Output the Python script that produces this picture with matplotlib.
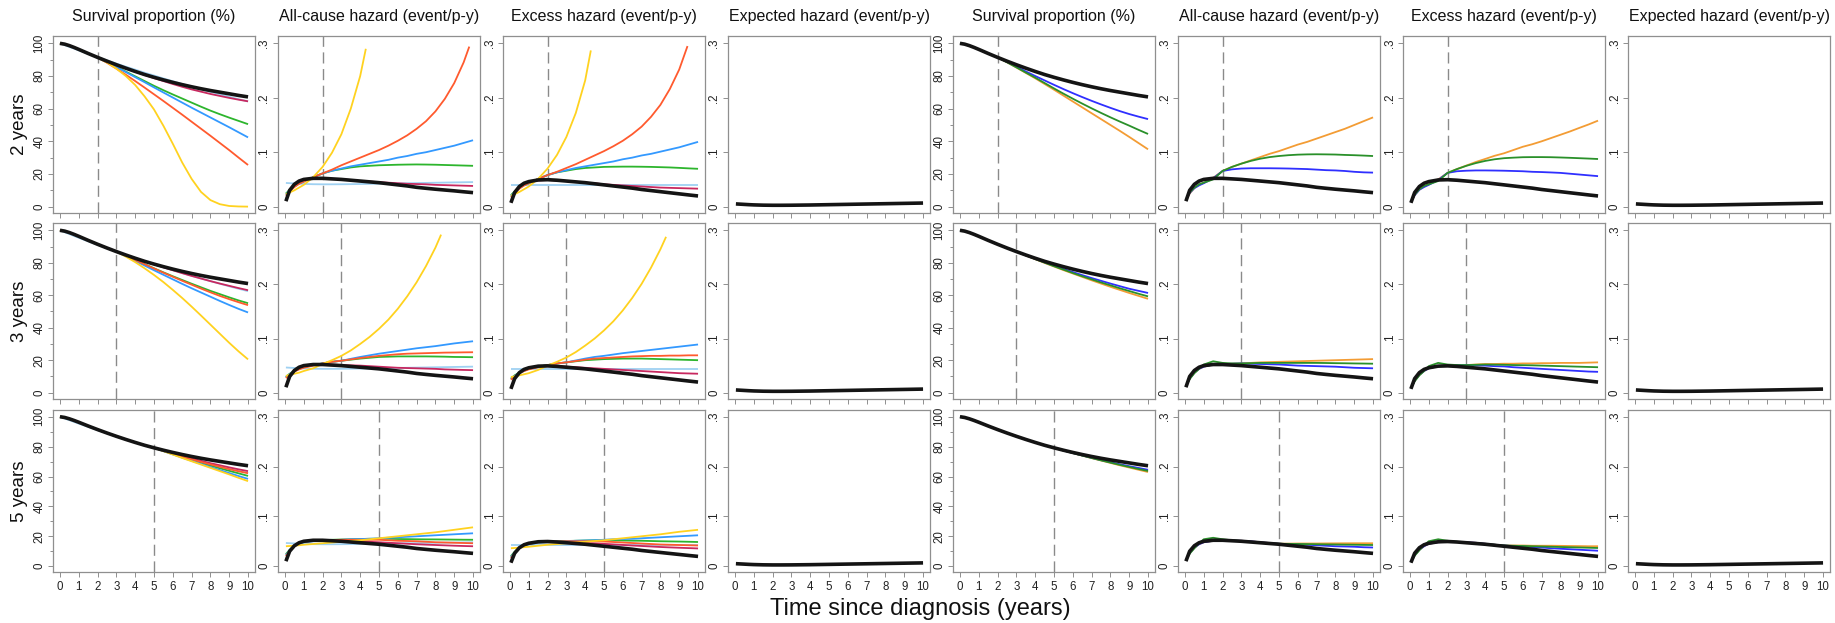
import numpy as np
import matplotlib
matplotlib.use("Agg")
import matplotlib.pyplot as plt

plt.rcParams['font.family'] = ['Liberation Sans', 'DejaVu Sans']

# ---------------- data ----------------
TS = [0, 0.25, 0.5, 0.75, 1, 1.5, 2, 2.5, 3, 3.5, 4, 4.5, 5, 5.5, 6, 6.5, 7, 7.5, 8, 8.5, 9, 9.5, 10]
TH = [0.05, 0.25, 0.5, 0.75, 1, 1.5, 2, 2.5, 3, 3.5, 4, 4.5, 5, 5.5, 6, 6.5, 7, 7.5, 8, 8.5, 9, 9.5, 10]

COL_TITLES = ["Survival proportion (%)", "All-cause hazard (event/p-y)",
              "Excess hazard (event/p-y)", "Expected hazard (event/p-y)"]
ROW_LABELS = ["2 years", "3 years", "5 years"]
CUTS = [2, 3, 5]
X_LABEL = "Time since diagnosis (years)"

# reference (black) curves
S_REF = [100, 99.5, 98.6, 97.5, 96.3, 93.8, 91.4, 89.1, 86.9, 84.8, 82.8, 80.9, 79.2, 77.6, 76.1, 74.7, 73.4, 72.2, 71.1, 70.1, 69.1, 68.1, 67.2]
H_REF = [0.010, 0.030, 0.041, 0.047, 0.050, 0.052, 0.052, 0.051, 0.050, 0.0485, 0.047, 0.0455, 0.044, 0.042, 0.040, 0.038, 0.0355, 0.0337, 0.032, 0.0305, 0.029, 0.0273, 0.0257]
E_REF = [0.007, 0.026, 0.037, 0.043, 0.046, 0.049, 0.0495, 0.0485, 0.047, 0.0455, 0.044, 0.042, 0.040, 0.038, 0.036, 0.034, 0.0315, 0.0295, 0.0275, 0.0255, 0.0235, 0.0215, 0.0196]
H_EXP = [0.0050, 0.0046, 0.0041, 0.0036, 0.0032, 0.0027, 0.0025, 0.0025, 0.0026, 0.0028, 0.0030, 0.0033, 0.0036, 0.0039, 0.0042, 0.0045, 0.0048, 0.0051, 0.0054, 0.0057, 0.0060, 0.0063, 0.0066]

# ----- left block, 2-year row -----
S1_YEL = [100, 99.5, 98.6, 97.5, 96.3, 93.8, 91.4, 88.3, 84.5, 80.0, 74.5, 67.5, 59.5, 49.5, 38.5, 27.0, 17.0, 9.0, 4.0, 1.5, 0.4, 0.1, 0.0]
S1_ORA = [100, 99.5, 98.6, 97.5, 96.3, 93.8, 91.4, 88.1, 84.5, 80.8, 76.9, 72.9, 68.8, 64.7, 60.5, 56.3, 52.0, 47.7, 43.4, 39.0, 34.6, 30.0, 25.5]
S1_BLU = [100, 99.5, 98.6, 97.5, 96.3, 93.8, 91.4, 88.5, 85.5, 82.4, 79.3, 76.2, 73.0, 69.9, 66.8, 63.7, 60.6, 57.6, 54.6, 51.6, 48.6, 45.5, 42.4]
S1_GRN = [100, 99.5, 98.6, 97.5, 96.3, 93.8, 91.4, 88.5, 85.6, 82.7, 79.8, 76.9, 74.0, 71.3, 68.7, 66.2, 63.7, 61.2, 58.8, 56.6, 54.5, 52.5, 50.5]
S1_CRI = [100, 99.5, 98.6, 97.5, 96.3, 93.8, 91.4, 89.1, 86.9, 84.7, 82.6, 80.6, 78.7, 76.9, 75.1, 73.4, 71.8, 70.4, 69.0, 67.8, 66.6, 65.5, 64.5]
S1_LBL = [100, 98.9, 97.8, 96.8, 95.7, 93.6, 91.6, 89.6, 87.6, 85.7, 83.9, 82.0, 80.3, 78.5, 76.8, 75.1, 73.5, 71.9, 70.3, 68.8, 67.3, 65.8, 64.4]

T1_YEL = [0.05, 0.25, 0.5, 0.75, 1, 1.5, 2, 2.5, 3, 3.5, 4, 4.3]
H1_YEL = [0.023, 0.026, 0.030, 0.035, 0.040, 0.054, 0.073, 0.099, 0.133, 0.180, 0.240, 0.290]
T1_ORA_H = [0.05, 0.25, 0.5, 0.75, 1, 1.5, 2, 2.5, 3, 3.5, 4, 4.5, 5, 5.5, 6, 6.5, 7, 7.5, 8, 8.5, 9, 9.5, 9.8]
H1_ORA = [0.020, 0.028, 0.036, 0.042, 0.046, 0.054, 0.061, 0.068, 0.076, 0.083, 0.090, 0.097, 0.104, 0.112, 0.121, 0.131, 0.143, 0.157, 0.175, 0.198, 0.227, 0.265, 0.294]
H1_BLU = [0.022, 0.030, 0.037, 0.042, 0.046, 0.054, 0.061, 0.066, 0.070, 0.074, 0.077, 0.080, 0.083, 0.086, 0.090, 0.093, 0.097, 0.100, 0.104, 0.108, 0.112, 0.117, 0.122]
H1_GRN = [0.024, 0.031, 0.038, 0.043, 0.046, 0.054, 0.061, 0.066, 0.069, 0.072, 0.074, 0.075, 0.076, 0.0765, 0.077, 0.0773, 0.0775, 0.0773, 0.077, 0.0765, 0.076, 0.0755, 0.075]
H1_CRI = [0.012, 0.030, 0.040, 0.046, 0.049, 0.052, 0.052, 0.051, 0.050, 0.049, 0.047, 0.046, 0.045, 0.044, 0.043, 0.042, 0.0415, 0.041, 0.040, 0.0395, 0.039, 0.0385, 0.038]
H1_LBL = [0.0435, 0.0431, 0.0426, 0.0421, 0.0417, 0.0412, 0.041, 0.041, 0.0411, 0.0413, 0.0415, 0.0418, 0.0421, 0.0424, 0.0427, 0.043, 0.0433, 0.0436, 0.0439, 0.0442, 0.0445, 0.0448, 0.0451]

E1_YEL = [0.020, 0.023, 0.027, 0.032, 0.037, 0.051, 0.070, 0.095, 0.128, 0.172, 0.232, 0.287]
T1_ORA_E = [0.05, 0.25, 0.5, 0.75, 1, 1.5, 2, 2.5, 3, 3.5, 4, 4.5, 5, 5.5, 6, 6.5, 7, 7.5, 8, 8.5, 9, 9.44]
E1_ORA = [0.017, 0.025, 0.033, 0.039, 0.043, 0.051, 0.058, 0.064, 0.071, 0.078, 0.086, 0.094, 0.102, 0.111, 0.121, 0.133, 0.147, 0.165, 0.187, 0.216, 0.252, 0.295]
E1_BLU = [0.019, 0.027, 0.034, 0.039, 0.043, 0.051, 0.058, 0.063, 0.067, 0.071, 0.074, 0.077, 0.080, 0.083, 0.087, 0.090, 0.094, 0.097, 0.101, 0.105, 0.109, 0.114, 0.119]
E1_GRN = [0.021, 0.028, 0.035, 0.040, 0.043, 0.051, 0.058, 0.063, 0.066, 0.069, 0.071, 0.072, 0.073, 0.0733, 0.0735, 0.0735, 0.0733, 0.073, 0.0725, 0.072, 0.0712, 0.0703, 0.0695]
E1_CRI = [0.008, 0.026, 0.036, 0.042, 0.045, 0.048, 0.049, 0.048, 0.047, 0.046, 0.044, 0.043, 0.041, 0.040, 0.039, 0.038, 0.037, 0.036, 0.035, 0.0345, 0.034, 0.0335, 0.033]
E1_LBL = [0.040, 0.040, 0.040, 0.040, 0.040, 0.040, 0.040, 0.040, 0.040, 0.040, 0.040, 0.040, 0.040, 0.040, 0.040, 0.040, 0.040, 0.040, 0.040, 0.040, 0.040, 0.040, 0.040]

# ----- left block, 3-year row -----
S2_YEL = [100, 99.5, 98.6, 97.5, 96.3, 93.8, 91.4, 89.1, 86.9, 83.8, 80.4, 76.6, 72.5, 68.1, 63.3, 58.3, 53.0, 47.5, 41.9, 36.3, 30.7, 25.4, 20.5]
S2_ORA = [100, 99.5, 98.6, 97.5, 96.3, 93.8, 91.4, 89.1, 86.9, 84.3, 81.7, 79.1, 76.5, 73.9, 71.4, 68.9, 66.5, 64.1, 61.8, 59.6, 57.6, 55.7, 53.9]
S2_GRN = [100, 99.5, 98.6, 97.5, 96.3, 93.8, 91.4, 89.1, 86.9, 84.3, 81.8, 79.2, 76.6, 74.1, 71.7, 69.4, 67.1, 64.9, 62.7, 60.7, 58.7, 56.8, 55.1]
S2_BLU = [100, 99.5, 98.6, 97.5, 96.3, 93.8, 91.4, 89.1, 86.9, 84.1, 81.2, 78.3, 75.4, 72.6, 69.8, 67.0, 64.3, 61.7, 59.1, 56.5, 54.0, 51.6, 49.4]
S2_CRI = [100, 99.5, 98.6, 97.5, 96.3, 93.8, 91.4, 89.1, 86.9, 84.8, 82.8, 80.9, 79.0, 77.2, 75.4, 73.6, 71.9, 70.3, 68.7, 67.2, 65.8, 64.4, 63.1]
S2_LBL = [100, 98.8, 97.7, 96.5, 95.4, 93.2, 91.0, 88.9, 86.8, 84.8, 82.9, 80.9, 79.1, 77.2, 75.4, 73.7, 72.0, 70.3, 68.7, 67.1, 65.5, 64.0, 62.5]

T2_YEL = [0.05, 0.25, 0.5, 0.75, 1, 1.5, 2, 2.5, 3, 3.5, 4, 4.5, 5, 5.5, 6, 6.5, 7, 7.5, 8, 8.3]
H2_YEL = [0.031, 0.033, 0.035, 0.037, 0.040, 0.045, 0.053, 0.060, 0.068, 0.078, 0.090, 0.103, 0.118, 0.135, 0.155, 0.178, 0.204, 0.234, 0.268, 0.292]
H2_BLU = [0.028, 0.034, 0.040, 0.044, 0.047, 0.051, 0.054, 0.057, 0.059, 0.0625, 0.066, 0.069, 0.072, 0.0745, 0.077, 0.0795, 0.082, 0.084, 0.086, 0.0885, 0.091, 0.093, 0.095]
H2_ORA = [0.027, 0.033, 0.039, 0.043, 0.046, 0.050, 0.054, 0.057, 0.059, 0.0615, 0.064, 0.066, 0.068, 0.0695, 0.071, 0.072, 0.0725, 0.073, 0.0735, 0.074, 0.0742, 0.0745, 0.0747]
H2_GRN = [0.029, 0.035, 0.040, 0.044, 0.047, 0.051, 0.054, 0.057, 0.059, 0.061, 0.063, 0.0645, 0.066, 0.0665, 0.067, 0.067, 0.067, 0.067, 0.0668, 0.0665, 0.066, 0.0658, 0.0655]
H2_CRI = [0.012, 0.030, 0.040, 0.046, 0.049, 0.052, 0.052, 0.052, 0.051, 0.0505, 0.050, 0.049, 0.048, 0.047, 0.046, 0.0455, 0.045, 0.0445, 0.044, 0.043, 0.0425, 0.042, 0.0416]
H2_LBL = [0.0465, 0.0461, 0.0456, 0.0451, 0.0447, 0.0442, 0.044, 0.044, 0.0441, 0.0443, 0.0445, 0.0448, 0.0451, 0.0454, 0.0457, 0.046, 0.0463, 0.0466, 0.0469, 0.0472, 0.0475, 0.0478, 0.0481]

E2_YEL = [0.029, 0.030, 0.032, 0.034, 0.036, 0.042, 0.050, 0.057, 0.065, 0.075, 0.087, 0.100, 0.115, 0.132, 0.152, 0.175, 0.201, 0.231, 0.265, 0.288]
E2_BLU = [0.025, 0.031, 0.036, 0.040, 0.044, 0.048, 0.051, 0.054, 0.056, 0.0595, 0.063, 0.066, 0.068, 0.0705, 0.073, 0.075, 0.077, 0.079, 0.081, 0.083, 0.085, 0.087, 0.089]
E2_ORA = [0.024, 0.030, 0.036, 0.040, 0.043, 0.047, 0.051, 0.054, 0.056, 0.0585, 0.061, 0.063, 0.064, 0.065, 0.066, 0.067, 0.0675, 0.068, 0.068, 0.0685, 0.0685, 0.069, 0.069]
E2_GRN = [0.026, 0.032, 0.037, 0.041, 0.044, 0.048, 0.051, 0.054, 0.056, 0.058, 0.060, 0.061, 0.062, 0.0625, 0.063, 0.063, 0.063, 0.0625, 0.062, 0.0615, 0.061, 0.0605, 0.060]
E2_CRI = [0.008, 0.026, 0.036, 0.042, 0.045, 0.048, 0.049, 0.049, 0.048, 0.047, 0.046, 0.045, 0.044, 0.043, 0.042, 0.041, 0.040, 0.039, 0.038, 0.037, 0.036, 0.0355, 0.035]
E2_LBL = [0.043, 0.043, 0.043, 0.043, 0.043, 0.043, 0.043, 0.043, 0.043, 0.043, 0.043, 0.043, 0.043, 0.043, 0.043, 0.043, 0.043, 0.043, 0.043, 0.043, 0.043, 0.043, 0.043]

# ----- left block, 5-year row -----
S3_CRI = [100, 99.5, 98.6, 97.5, 96.3, 93.8, 91.4, 89.1, 86.9, 84.8, 82.8, 80.9, 79.2, 77.3, 75.5, 73.7, 72.1, 70.5, 68.9, 67.5, 66.1, 64.8, 63.6]
S3_ORA = [100, 99.5, 98.6, 97.5, 96.3, 93.8, 91.4, 89.1, 86.9, 84.8, 82.8, 80.9, 79.2, 77.2, 75.2, 73.3, 71.5, 69.8, 68.1, 66.5, 64.9, 63.5, 62.2]
S3_GRN = [100, 99.5, 98.6, 97.5, 96.3, 93.8, 91.4, 89.1, 86.9, 84.8, 82.8, 80.9, 79.2, 77.1, 75.0, 73.0, 71.0, 69.1, 67.3, 65.5, 63.8, 62.1, 60.4]
S3_BLU = [100, 99.5, 98.6, 97.5, 96.3, 93.8, 91.4, 89.1, 86.9, 84.8, 82.8, 80.9, 79.2, 77.0, 74.8, 72.6, 70.5, 68.4, 66.3, 64.3, 62.3, 60.3, 58.4]
S3_YEL = [100, 99.5, 98.6, 97.5, 96.3, 93.8, 91.4, 89.1, 86.9, 84.8, 82.8, 80.9, 79.2, 77.0, 74.7, 72.4, 70.2, 68.0, 65.8, 63.6, 61.4, 59.1, 56.9]
S3_LBL = [100, 98.8, 97.7, 96.5, 95.4, 93.2, 91.0, 88.9, 86.8, 84.8, 82.8, 80.9, 79.0, 77.2, 75.3, 73.6, 71.9, 70.2, 68.5, 66.9, 65.4, 63.9, 62.4]

H3_YEL = [0.040, 0.0405, 0.041, 0.042, 0.043, 0.0445, 0.046, 0.0475, 0.049, 0.0505, 0.052, 0.054, 0.056, 0.058, 0.060, 0.062, 0.064, 0.066, 0.068, 0.0705, 0.073, 0.0755, 0.078]
H3_BLU = [0.022, 0.032, 0.040, 0.045, 0.048, 0.050, 0.051, 0.052, 0.053, 0.054, 0.0545, 0.055, 0.056, 0.057, 0.058, 0.059, 0.060, 0.061, 0.062, 0.063, 0.064, 0.065, 0.066]
H3_GRN = [0.024, 0.033, 0.041, 0.046, 0.049, 0.051, 0.052, 0.053, 0.0535, 0.054, 0.0545, 0.055, 0.055, 0.055, 0.0545, 0.0543, 0.054, 0.0538, 0.0537, 0.0535, 0.0533, 0.0531, 0.053]
H3_ORA = [0.020, 0.031, 0.040, 0.046, 0.049, 0.051, 0.052, 0.0525, 0.053, 0.053, 0.053, 0.053, 0.053, 0.052, 0.051, 0.0505, 0.050, 0.049, 0.048, 0.0475, 0.047, 0.0465, 0.046]
H3_CRI = [0.012, 0.030, 0.040, 0.046, 0.049, 0.052, 0.052, 0.0518, 0.0512, 0.0505, 0.0498, 0.049, 0.048, 0.047, 0.046, 0.045, 0.044, 0.0432, 0.0425, 0.0418, 0.0411, 0.0405, 0.040]
H3_LBL = [0.0465, 0.0461, 0.0456, 0.0451, 0.0447, 0.0442, 0.044, 0.044, 0.0441, 0.0443, 0.0445, 0.0448, 0.0451, 0.0454, 0.0457, 0.046, 0.0463, 0.0466, 0.0469, 0.0472, 0.0475, 0.0478, 0.0481]

E3_YEL = [0.036, 0.0365, 0.037, 0.0382, 0.039, 0.041, 0.043, 0.0445, 0.046, 0.0475, 0.049, 0.0505, 0.052, 0.054, 0.056, 0.058, 0.060, 0.062, 0.064, 0.0665, 0.069, 0.071, 0.073]
E3_BLU = [0.018, 0.028, 0.036, 0.041, 0.044, 0.047, 0.048, 0.049, 0.050, 0.051, 0.0515, 0.052, 0.053, 0.054, 0.0545, 0.055, 0.056, 0.057, 0.058, 0.059, 0.060, 0.061, 0.062]
E3_GRN = [0.020, 0.029, 0.037, 0.042, 0.045, 0.048, 0.049, 0.050, 0.0505, 0.051, 0.0515, 0.052, 0.052, 0.0518, 0.0515, 0.0512, 0.051, 0.0505, 0.050, 0.0497, 0.0494, 0.049, 0.0485]
E3_ORA = [0.016, 0.027, 0.036, 0.042, 0.045, 0.048, 0.049, 0.0495, 0.050, 0.050, 0.050, 0.050, 0.0495, 0.0485, 0.0475, 0.0465, 0.0455, 0.0445, 0.0435, 0.043, 0.0425, 0.042, 0.0415]
E3_CRI = [0.008, 0.026, 0.036, 0.042, 0.045, 0.048, 0.049, 0.0488, 0.0482, 0.0475, 0.0467, 0.0458, 0.0448, 0.0437, 0.0426, 0.0415, 0.0405, 0.0395, 0.0385, 0.0377, 0.037, 0.0363, 0.0356]
E3_LBL = [0.0425, 0.0425, 0.0425, 0.0425, 0.0425, 0.0425, 0.0425, 0.0425, 0.0425, 0.0425, 0.0425, 0.0425, 0.0425, 0.0425, 0.0425, 0.0425, 0.0425, 0.0425, 0.0425, 0.0425, 0.0425, 0.0425, 0.0425]

# ----- right block -----
R1S_BLU = [100, 99.5, 98.6, 97.5, 96.3, 93.8, 91.4, 88.6, 85.7, 82.8, 80.0, 77.3, 74.6, 72.0, 69.5, 67.1, 64.8, 62.6, 60.5, 58.5, 56.7, 55.1, 53.6]
R1S_GRN = [100, 99.5, 98.6, 97.5, 96.3, 93.8, 91.4, 88.4, 85.3, 82.1, 79.0, 75.7, 72.4, 69.2, 66.1, 63.1, 60.2, 57.4, 54.7, 52.1, 49.6, 47.0, 44.5]
R1S_ORA = [100, 99.5, 98.6, 97.5, 96.3, 93.8, 91.4, 88.4, 85.2, 81.9, 78.6, 75.1, 71.6, 68.0, 64.4, 60.8, 57.2, 53.6, 50.0, 46.4, 42.7, 38.9, 35.1]
R1H_ORA = [0.011, 0.024, 0.034, 0.040, 0.044, 0.053, 0.0655, 0.073, 0.079, 0.085, 0.091, 0.097, 0.102, 0.108, 0.114, 0.119, 0.125, 0.131, 0.137, 0.143, 0.150, 0.157, 0.164]
R1H_GRN = [0.013, 0.026, 0.035, 0.041, 0.044, 0.050, 0.0655, 0.073, 0.079, 0.084, 0.088, 0.091, 0.093, 0.0945, 0.0955, 0.096, 0.0962, 0.096, 0.0957, 0.095, 0.0945, 0.0938, 0.093]
R1H_BLU = [0.012, 0.025, 0.034, 0.039, 0.043, 0.052, 0.0655, 0.0685, 0.070, 0.0705, 0.0705, 0.0705, 0.0703, 0.070, 0.0695, 0.069, 0.068, 0.067, 0.0665, 0.0655, 0.064, 0.063, 0.0625]
R1E_ORA = [0.008, 0.021, 0.031, 0.037, 0.041, 0.050, 0.062, 0.069, 0.0755, 0.082, 0.0876, 0.0934, 0.098, 0.104, 0.110, 0.1146, 0.120, 0.126, 0.132, 0.138, 0.1446, 0.151, 0.158]
R1E_GRN = [0.009, 0.022, 0.032, 0.038, 0.041, 0.047, 0.062, 0.069, 0.075, 0.080, 0.084, 0.087, 0.089, 0.090, 0.0908, 0.091, 0.091, 0.0908, 0.0903, 0.0897, 0.089, 0.0883, 0.0875]
R1E_BLU = [0.008, 0.021, 0.031, 0.036, 0.040, 0.049, 0.062, 0.065, 0.066, 0.0665, 0.0665, 0.0663, 0.066, 0.0655, 0.065, 0.064, 0.0635, 0.0628, 0.062, 0.0605, 0.059, 0.0575, 0.056]

R2S_BLU = [100, 99.5, 98.6, 97.5, 96.3, 93.8, 91.4, 89.1, 86.9, 84.6, 82.4, 80.3, 78.2, 76.2, 74.3, 72.4, 70.6, 68.9, 67.2, 65.6, 64.0, 62.7, 61.4]
R2S_GRN = [100, 99.5, 98.6, 97.5, 96.3, 93.8, 91.4, 89.1, 86.9, 84.6, 82.3, 80.1, 77.9, 75.8, 73.7, 71.7, 69.8, 67.9, 66.1, 64.3, 62.6, 60.9, 59.3]
R2S_ORA = [100, 99.5, 98.6, 97.5, 96.3, 93.8, 91.4, 89.1, 86.9, 84.5, 82.2, 79.9, 77.7, 75.5, 73.4, 71.3, 69.2, 67.2, 65.2, 63.3, 61.4, 59.6, 57.8]
R2H_BLU = [0.012, 0.026, 0.037, 0.044, 0.048, 0.052, 0.053, 0.0535, 0.054, 0.0535, 0.053, 0.0525, 0.052, 0.051, 0.050, 0.0495, 0.049, 0.0485, 0.048, 0.047, 0.046, 0.0455, 0.045]
R2H_ORA = [0.012, 0.026, 0.037, 0.044, 0.048, 0.052, 0.053, 0.0535, 0.054, 0.055, 0.056, 0.0565, 0.057, 0.0575, 0.058, 0.0585, 0.059, 0.0595, 0.060, 0.0605, 0.061, 0.0615, 0.062]
R2H_GRN = [0.012, 0.025, 0.036, 0.044, 0.052, 0.058, 0.055, 0.054, 0.054, 0.0545, 0.055, 0.055, 0.055, 0.055, 0.055, 0.055, 0.055, 0.0548, 0.0545, 0.0543, 0.054, 0.0538, 0.0535]
R2E_BLU = [0.008, 0.022, 0.033, 0.040, 0.045, 0.049, 0.050, 0.051, 0.051, 0.0505, 0.050, 0.049, 0.0485, 0.047, 0.046, 0.045, 0.044, 0.043, 0.042, 0.041, 0.040, 0.039, 0.0385]
R2E_ORA = [0.008, 0.022, 0.033, 0.040, 0.045, 0.049, 0.050, 0.051, 0.051, 0.052, 0.053, 0.053, 0.0535, 0.0535, 0.054, 0.054, 0.0545, 0.0545, 0.055, 0.055, 0.055, 0.0555, 0.056]
R2E_GRN = [0.008, 0.021, 0.032, 0.040, 0.049, 0.055, 0.052, 0.051, 0.051, 0.0515, 0.052, 0.0518, 0.0515, 0.051, 0.0508, 0.0505, 0.050, 0.0495, 0.049, 0.0485, 0.048, 0.0475, 0.047]

R3S_BLU = [100, 99.5, 98.6, 97.5, 96.3, 93.8, 91.4, 89.1, 86.9, 84.8, 82.8, 80.9, 79.2, 77.4, 75.7, 74.1, 72.5, 71.0, 69.6, 68.2, 66.9, 65.7, 64.5]
R3S_GRN = [100, 99.5, 98.6, 97.5, 96.3, 93.8, 91.4, 89.1, 86.9, 84.8, 82.8, 80.9, 79.2, 77.4, 75.7, 74.0, 72.4, 70.8, 69.3, 67.8, 66.4, 65.0, 63.7]
R3S_ORA = [100, 99.5, 98.6, 97.5, 96.3, 93.8, 91.4, 89.1, 86.9, 84.8, 82.8, 80.9, 79.2, 77.4, 75.7, 74.0, 72.3, 70.7, 69.1, 67.5, 66.0, 64.5, 63.0]
R3H_BLU = [0.012, 0.026, 0.037, 0.044, 0.048, 0.051, 0.052, 0.0515, 0.051, 0.050, 0.048, 0.0465, 0.045, 0.044, 0.0435, 0.043, 0.042, 0.041, 0.040, 0.0395, 0.039, 0.038, 0.0375]
R3H_ORA = [0.012, 0.026, 0.037, 0.044, 0.048, 0.051, 0.052, 0.0515, 0.051, 0.050, 0.048, 0.0465, 0.045, 0.0452, 0.0455, 0.0455, 0.0455, 0.0457, 0.0458, 0.0459, 0.046, 0.046, 0.046]
R3H_GRN = [0.012, 0.025, 0.036, 0.046, 0.054, 0.057, 0.054, 0.052, 0.0505, 0.049, 0.0475, 0.046, 0.045, 0.0448, 0.0445, 0.0443, 0.044, 0.0437, 0.0435, 0.0432, 0.043, 0.0427, 0.0425]
R3E_BLU = [0.008, 0.022, 0.033, 0.040, 0.045, 0.048, 0.049, 0.0485, 0.048, 0.047, 0.045, 0.043, 0.0415, 0.0405, 0.0395, 0.0385, 0.0375, 0.036, 0.035, 0.034, 0.033, 0.032, 0.031]
R3E_ORA = [0.008, 0.022, 0.033, 0.040, 0.045, 0.048, 0.049, 0.0485, 0.048, 0.047, 0.045, 0.043, 0.0415, 0.0415, 0.0415, 0.041, 0.041, 0.041, 0.0408, 0.0405, 0.0403, 0.040, 0.040]
R3E_GRN = [0.008, 0.021, 0.032, 0.042, 0.050, 0.054, 0.051, 0.049, 0.0475, 0.046, 0.0445, 0.043, 0.0415, 0.041, 0.0405, 0.040, 0.0395, 0.039, 0.0385, 0.038, 0.0375, 0.037, 0.0365]

# ---------------- styles ----------------
C_YEL = '#FFD21F'
C_ORA = '#FF5A2E'
C_BLU = '#3399FF'
C_GRN = '#2DB52D'
C_CRI = '#C8285F'
C_LBL = '#9FD1F2'
C_BLK = '#141414'
C_RORA = '#F39C34'
C_RGRN = '#2A902A'
C_RBLU = '#2F2FFF'
LW_C = 1.3
LW_K = 2.6

# ---------------- panels ----------------
left = {
    0: {0: [(TS, S1_LBL, C_LBL), (TS, S1_CRI, C_CRI), (TS, S1_GRN, C_GRN), (TS, S1_BLU, C_BLU), (TS, S1_ORA, C_ORA), (TS, S1_YEL, C_YEL)],
        1: [(TH, H1_LBL, C_LBL), (TH, H1_CRI, C_CRI), (TH, H1_GRN, C_GRN), (TH, H1_BLU, C_BLU), (T1_ORA_H, H1_ORA, C_ORA), (T1_YEL, H1_YEL, C_YEL)],
        2: [(TH, E1_LBL, C_LBL), (TH, E1_CRI, C_CRI), (TH, E1_GRN, C_GRN), (TH, E1_BLU, C_BLU), (T1_ORA_E, E1_ORA, C_ORA), (T1_YEL, E1_YEL, C_YEL)]},
    1: {0: [(TS, S2_LBL, C_LBL), (TS, S2_CRI, C_CRI), (TS, S2_GRN, C_GRN), (TS, S2_BLU, C_BLU), (TS, S2_ORA, C_ORA), (TS, S2_YEL, C_YEL)],
        1: [(TH, H2_LBL, C_LBL), (TH, H2_CRI, C_CRI), (TH, H2_GRN, C_GRN), (TH, H2_BLU, C_BLU), (TH, H2_ORA, C_ORA), (T2_YEL, H2_YEL, C_YEL)],
        2: [(TH, E2_LBL, C_LBL), (TH, E2_CRI, C_CRI), (TH, E2_GRN, C_GRN), (TH, E2_BLU, C_BLU), (TH, E2_ORA, C_ORA), (T2_YEL, E2_YEL, C_YEL)]},
    2: {0: [(TS, S3_LBL, C_LBL), (TS, S3_CRI, C_CRI), (TS, S3_GRN, C_GRN), (TS, S3_BLU, C_BLU), (TS, S3_ORA, C_ORA), (TS, S3_YEL, C_YEL)],
        1: [(TH, H3_LBL, C_LBL), (TH, H3_CRI, C_CRI), (TH, H3_GRN, C_GRN), (TH, H3_BLU, C_BLU), (TH, H3_ORA, C_ORA), (TH, H3_YEL, C_YEL)],
        2: [(TH, E3_LBL, C_LBL), (TH, E3_CRI, C_CRI), (TH, E3_GRN, C_GRN), (TH, E3_BLU, C_BLU), (TH, E3_ORA, C_ORA), (TH, E3_YEL, C_YEL)]},
}
right = {
    0: {0: [(TS, R1S_ORA, C_RORA), (TS, R1S_BLU, C_RBLU), (TS, R1S_GRN, C_RGRN)],
        1: [(TH, R1H_ORA, C_RORA), (TH, R1H_BLU, C_RBLU), (TH, R1H_GRN, C_RGRN)],
        2: [(TH, R1E_ORA, C_RORA), (TH, R1E_BLU, C_RBLU), (TH, R1E_GRN, C_RGRN)]},
    1: {0: [(TS, R2S_ORA, C_RORA), (TS, R2S_BLU, C_RBLU), (TS, R2S_GRN, C_RGRN)],
        1: [(TH, R2H_ORA, C_RORA), (TH, R2H_BLU, C_RBLU), (TH, R2H_GRN, C_RGRN)],
        2: [(TH, R2E_ORA, C_RORA), (TH, R2E_BLU, C_RBLU), (TH, R2E_GRN, C_RGRN)]},
    2: {0: [(TS, R3S_ORA, C_RORA), (TS, R3S_BLU, C_RBLU), (TS, R3S_GRN, C_RGRN)],
        1: [(TH, R3H_ORA, C_RORA), (TH, R3H_BLU, C_RBLU), (TH, R3H_GRN, C_RGRN)],
        2: [(TH, R3E_ORA, C_RORA), (TH, R3E_BLU, C_RBLU), (TH, R3E_GRN, C_RGRN)]},
}

W, H = 1835, 623
fig = plt.figure(figsize=(W / 100, H / 100), dpi=100)

PANEL_LEFT = [53 + 225 * i for i in range(8)]
PANEL_W = 202
ROW_Y = [(36, 213), (223, 399), (410, 572)]
GREY = '#8f8f8f'


def px_axes(x0, y0, x1, y1):
    return fig.add_axes([x0 / W, 1 - y1 / H, (x1 - x0) / W, (y1 - y0) / H])


for r in range(3):
    y0, y1 = ROW_Y[r]
    for c in range(8):
        x0 = PANEL_LEFT[c]
        ax = px_axes(x0, y0, x0 + PANEL_W, y1)
        kind = c % 4
        block = left if c < 4 else right
        if kind == 0:
            ax.set_ylim(-3.9, 104.5)
            ax.set_yticks([0, 20, 40, 60, 80, 100])
            ax.set_yticks([10, 30, 50, 70, 90], minor=True)
            ax.set_yticklabels(['0', '20', '40', '60', '80', '100'])
        else:
            ax.set_ylim(-0.0117, 0.3135)
            ax.set_yticks([0, 0.1, 0.2, 0.3])
            ax.set_yticklabels(['0', '.1', '.2', '.3'])
        ax.set_xlim(-0.37, 10.37)
        ax.set_xticks(list(range(11)))
        if r == 2:
            ax.set_xticklabels([str(i) for i in range(11)])
        else:
            ax.set_xticklabels([])

        if kind < 3:
            ax.axvline(CUTS[r], color='#8a8a8a', lw=1.0, dashes=(8, 4), zorder=1)
            for (t, y, col) in block[r][kind]:
                ax.plot(t, y, color=col, lw=LW_C, zorder=2, solid_capstyle='butt')
            ref = [S_REF, H_REF, E_REF][kind]
            ref_t = TS if kind == 0 else TH
            ax.plot(ref_t, ref, color=C_BLK, lw=LW_K, zorder=3, solid_capstyle='butt')
        else:
            ax.plot(TH, H_EXP, color=C_BLK, lw=LW_K, zorder=3, solid_capstyle='butt')

        for sp in ax.spines.values():
            sp.set_color(GREY)
            sp.set_linewidth(0.9)
        ax.tick_params(axis='both', which='major', length=3.6, width=0.7, color=GREY,
                       labelsize=8.3, labelcolor='#222222', pad=1.8)
        ax.tick_params(axis='both', which='minor', length=2.2, width=0.7, color=GREY)
        ax.tick_params(axis='y', labelrotation=90)
        for lab in ax.get_yticklabels():
            lab.set_va('center')
        ax.tick_params(axis='x', pad=3)

# column titles
for c in range(8):
    cx = PANEL_LEFT[c] + PANEL_W / 2
    fig.text(cx / W, 1 - 17 / H, COL_TITLES[c % 4], ha='center', va='center',
             fontsize=11.5, color='#111111')

# row labels
for r in range(3):
    cy = (ROW_Y[r][0] + ROW_Y[r][1]) / 2
    fig.text(19 / W, 1 - cy / H, ROW_LABELS[r], ha='center', va='center',
             rotation=90, fontsize=13.5, color='#111111')

fig.text(920 / W, 1 - 609 / H, X_LABEL, ha='center', va='center', fontsize=17, color='#111111')

fig.savefig('out.png', dpi=100, facecolor='white')
